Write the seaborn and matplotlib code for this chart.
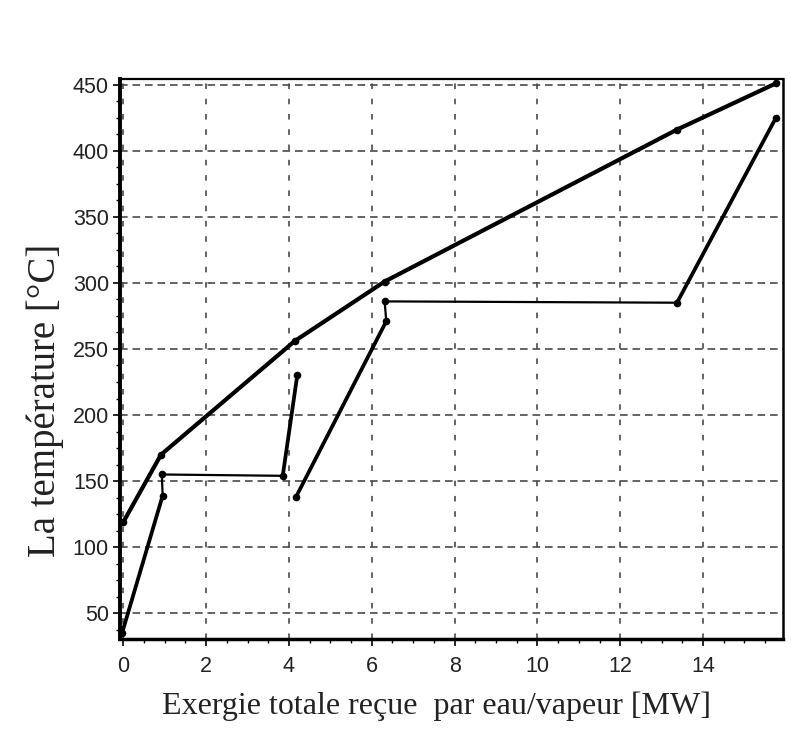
import matplotlib
matplotlib.use("Agg")
import matplotlib.pyplot as plt
from matplotlib.ticker import MultipleLocator
import seaborn as sns
import pandas as pd

# Hot-side (fumes) curve
hot_x = [0.0, 0.91, 4.14, 6.31, 13.37, 15.76]
hot_y = [119, 170, 256, 301, 416, 451]

# Cold-side (eau/vapeur) curve, two pieces
cold1_x = [-0.03, 0.95, 0.93, 3.85, 4.20]
cold1_y = [35, 139, 155, 154, 230]
cold2_x = [4.17, 6.35, 6.31, 13.37, 15.76]
cold2_y = [138, 271, 286, 285, 425]

x_ticks = [0, 2, 4, 6, 8, 10, 12, 14]
y_ticks = [50, 100, 150, 200, 250, 300, 350, 400, 450]
xlabel = "Exergie totale reçue  par eau/vapeur [MW]"
ylabel = "La température [°C]"

sns.set_style("white")
plt.rcParams["lines.scale_dashes"] = False

fig = plt.figure(figsize=(7.91, 7.32), dpi=100)
ax = fig.add_axes([120 / 791, 1 - 639 / 732, 663 / 791, 560 / 732])

# grid
for xv in x_ticks:
    ax.axvline(xv, color="#4a4a4a", lw=1.2, ls=(0, (4, 7)), zorder=1)
for yv in y_ticks:
    ax.axhline(yv, color="#4a4a4a", lw=1.2, ls=(0, (5.5, 3.5)), zorder=1)

# hot curve
df_hot = pd.DataFrame({"x": hot_x, "y": hot_y})
sns.lineplot(data=df_hot, x="x", y="y", sort=False, estimator=None, ax=ax,
             color="black", lw=3.0, marker="o", markersize=5.5,
             markeredgewidth=0, zorder=3)

# cold curve pieces: thin base line, thicker sloped segments
for cx, cy in [(cold1_x, cold1_y), (cold2_x, cold2_y)]:
    df_c = pd.DataFrame({"x": cx, "y": cy})
    sns.lineplot(data=df_c, x="x", y="y", sort=False, estimator=None, ax=ax,
                 color="black", lw=1.6, marker="o", markersize=5.5,
                 markeredgewidth=0, zorder=3)
    for i in range(len(cx) - 1):
        if abs(cy[i + 1] - cy[i]) > 20:
            seg = pd.DataFrame({"x": cx[i:i + 2], "y": cy[i:i + 2]})
            sns.lineplot(data=seg, x="x", y="y", sort=False, estimator=None,
                         ax=ax, color="black", lw=2.7, zorder=3)

ax.set_xlim(-0.08, 15.93)
ax.set_ylim(30.5, 454.3)
ax.set_xticks(x_ticks)
ax.set_yticks(y_ticks)
ax.xaxis.set_minor_locator(MultipleLocator(0.5))
ax.yaxis.set_minor_locator(MultipleLocator(12.5))

tick_font = {"family": "Liberation Sans", "size": 15.5}
ax.set_xticklabels([str(v) for v in x_ticks], fontdict=tick_font)
ax.set_yticklabels([str(v) for v in y_ticks], fontdict=tick_font)
ax.tick_params(axis="both", which="major", direction="out", length=5,
               width=1.2, color="black", labelcolor="#222222")
ax.tick_params(axis="x", which="major", pad=7)
ax.tick_params(axis="y", which="major", pad=3)
ax.tick_params(axis="both", which="minor", direction="out", length=3,
               width=1.0, color="black")
ax.tick_params(bottom=True, left=True, which="both")

for side, w in [("left", 2.8), ("bottom", 2.5), ("top", 1.6), ("right", 1.8)]:
    ax.spines[side].set_visible(True)
    ax.spines[side].set_color("black")
    ax.spines[side].set_linewidth(w)

ax.set_xlabel(xlabel, fontfamily="Liberation Serif", fontsize=23, color="#222222")
ax.set_ylabel(ylabel, fontfamily="Liberation Serif", fontsize=28, color="#222222")
ax.xaxis.set_label_coords((437 - 120) / 663, -(706 - 639) / 560)
ax.xaxis.label.set_va("center")
ax.yaxis.set_label_coords((45 - 120) / 663, (639 - 400) / 560)
ax.yaxis.label.set_va("center")

fig.savefig("out.png", dpi=100, facecolor="white")
